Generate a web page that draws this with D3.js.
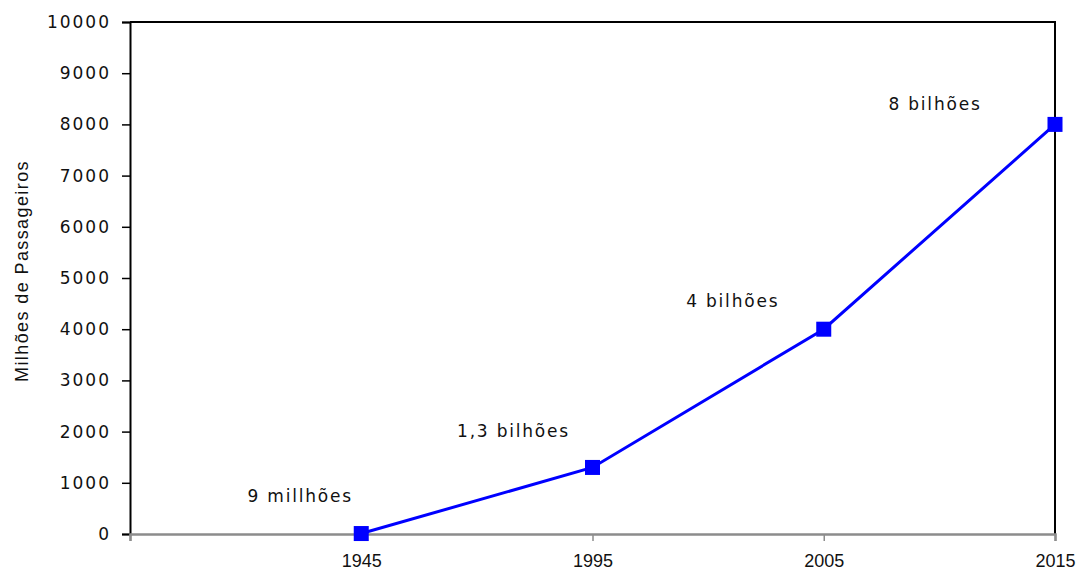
<!DOCTYPE html>
<html>
<head>
<meta charset="utf-8">
<script src="https://cdn.jsdelivr.net/npm/d3@7"></script>
<style>
  html, body { margin: 0; padding: 0; background: #fff; }
  svg { display: block; }
</style>
</head>
<body>
<svg id="chart" width="1083" height="571"></svg>
<script>
// Passenger numbers (millions) by year
const categories = ["", "1945", "1995", "2005", "2015"];
const years = ["1945", "1995", "2005", "2015"];
const passengers = [9, 1300, 4000, 8000];
const valueLabels = ["9 millhões", "1,3 bilhões", "4 bilhões", "8 bilhões"];
const yTicks = [0, 1000, 2000, 3000, 4000, 5000, 6000, 7000, 8000, 9000, 10000];
const yTitle = "Milhões de Passageiros";

const svg = d3.select("#chart");
const plotLeft = 130, plotRight = 1055, plotTop = 22, plotBottom = 534;

const x = d3.scalePoint().domain(categories).range([plotLeft, plotRight]);
const y = d3.scaleLinear().domain([0, 10000]).range([plotBottom, plotTop]);

// plot frame (top and right edges)
svg.append("path")
  .attr("d", `M${plotLeft},${plotTop}H${plotRight}V${plotBottom}`)
  .attr("fill", "none").attr("stroke", "#000").attr("stroke-width", 2);

// y axis
const yAxis = svg.append("g")
  .attr("transform", `translate(${plotLeft},0)`)
  .call(d3.axisLeft(y).tickValues(yTicks).tickSize(8).tickPadding(11).tickFormat(d3.format("d")));
yAxis.select(".domain").attr("stroke", "#000").attr("stroke-width", 2);
yAxis.selectAll(".tick line").attr("stroke", "#000").attr("stroke-width", 1.5);
yAxis.selectAll(".tick text")
  .attr("font-family", "DejaVu Sans, sans-serif").attr("font-size", 17)
  .attr("letter-spacing", "2px").attr("fill", "#111");

// x axis
const xAxis = svg.append("g")
  .attr("transform", `translate(0,${plotBottom})`)
  .call(d3.axisBottom(x).tickSize(7).tickPadding(13));
xAxis.select(".domain").attr("stroke", "#8c8c8c").attr("stroke-width", 2.5);
xAxis.selectAll(".tick line").attr("stroke", "#8c8c8c").attr("stroke-width", 1.5);
xAxis.selectAll(".tick text")
  .attr("font-family", "Liberation Sans, Arial, sans-serif").attr("font-size", 18)
  .attr("fill", "#111");

// y axis title
svg.append("text")
  .attr("transform", "translate(28,271) rotate(-90)")
  .attr("text-anchor", "middle")
  .attr("font-family", "Liberation Sans, Arial, sans-serif")
  .attr("font-size", 18).attr("letter-spacing", "1.4px").attr("fill", "#111")
  .text(yTitle);

const pts = years.map((yr, i) => ({ yr, v: passengers[i], label: valueLabels[i] }));

// series line
svg.append("path")
  .datum(pts)
  .attr("d", d3.line().x(d => x(d.yr)).y(d => y(d.v)))
  .attr("fill", "none").attr("stroke", "#0000ff").attr("stroke-width", 3);

// square markers
const m = 15;
svg.selectAll("rect.marker").data(pts).join("rect")
  .attr("class", "marker")
  .attr("x", d => x(d.yr) - m / 2).attr("y", d => y(d.v) - m / 2)
  .attr("width", m).attr("height", m).attr("fill", "#0000ff");

// value annotations placed above-left of each point
const offsets = [[-61, -32], [-79, -30], [-91, -22], [-120, -14]];
svg.selectAll("text.val").data(pts).join("text")
  .attr("class", "val")
  .attr("x", (d, i) => x(d.yr) + offsets[i][0])
  .attr("y", (d, i) => y(d.v) + offsets[i][1])
  .attr("text-anchor", "middle")
  .attr("font-family", "DejaVu Sans, sans-serif").attr("font-size", 17)
  .attr("letter-spacing", "1.8px").attr("fill", "#111")
  .text(d => d.label);
</script>
</body>
</html>
